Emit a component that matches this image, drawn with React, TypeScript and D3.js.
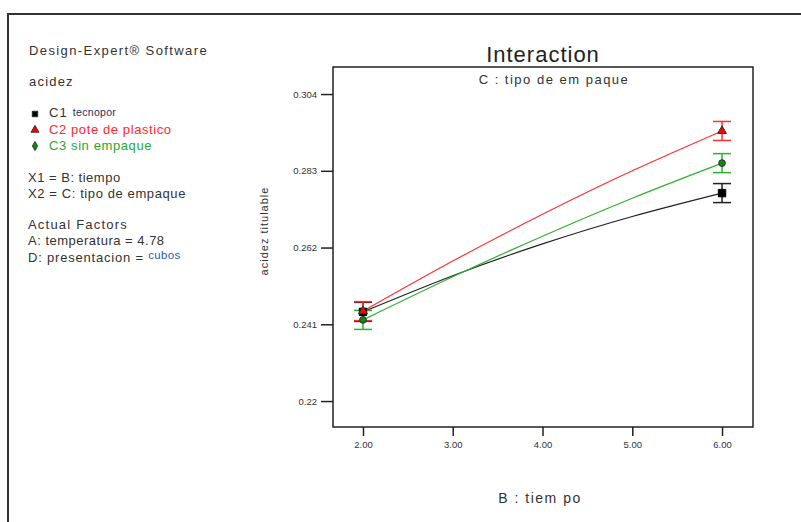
import React, { useEffect, useRef } from "react";
import * as d3 from "d3";

// B: tiempo levels
const tiempo = [2, 3, 4, 5, 6];
// acidez titulable per tipo de empaque
const c1Tecnopor = [0.2444, 0.2543, 0.263, 0.2705, 0.2769];
const c2Plastico = [0.2446, 0.2583, 0.2711, 0.283, 0.2939];
const c3SinEmpaque = [0.2422, 0.254, 0.2651, 0.2755, 0.2851];
// half-width of the LSD bars at the design points
const errHalf = [0.0026, 0.0026];
const yTicks = [0.22, 0.241, 0.262, 0.283, 0.304];
const yTickLabels = ["0.22", "0.241", "0.262", "0.283", "0.304"];
const xTicks = [2, 3, 4, 5, 6];
const xTickLabels = ["2.00", "3.00", "4.00", "5.00", "6.00"];

const FONT = "'Liberation Sans', Arial, sans-serif";

const App = () => {
  const svgRef = useRef<SVGSVGElement>(null);
  const width = 801;
  const height = 522;
  const box = { left: 333, right: 753, top: 67, bottom: 427 };

  useEffect(() => {
    const svg = d3.select(svgRef.current);
    svg.selectAll("*").remove();

    const x = d3.scaleLinear().domain([1.666, 6.345]).range([box.left, box.right]);
    const y = d3.scaleLinear().domain([0.2129, 0.3114]).range([box.bottom, box.top]);

    // outer frame
    svg.append("rect")
      .attr("x", 8).attr("y", 14)
      .attr("width", width).attr("height", height)
      .attr("fill", "none").attr("stroke", "#333").attr("stroke-width", 2);

    // plot box
    svg.append("rect")
      .attr("x", box.left).attr("y", box.top)
      .attr("width", box.right - box.left).attr("height", box.bottom - box.top)
      .attr("fill", "none").attr("stroke", "#222").attr("stroke-width", 1.5);

    // Y axis
    const yAxis = d3.axisLeft(y)
      .tickValues(yTicks)
      .tickSize(12)
      .tickPadding(4)
      .tickFormat((d, i) => yTickLabels[i]);
    const gy = svg.append("g").attr("transform", `translate(${box.left},0)`).call(yAxis);
    gy.select(".domain").remove();
    gy.selectAll("line").attr("stroke", "#222").attr("stroke-width", 1.5);
    gy.selectAll("text")
      .style("font-family", FONT).style("font-size", "9.5px").attr("fill", "#333");

    // X axis
    const xAxis = d3.axisBottom(x)
      .tickValues(xTicks)
      .tickSize(9)
      .tickPadding(5)
      .tickFormat((d, i) => xTickLabels[i]);
    const gx = svg.append("g").attr("transform", `translate(0,${box.bottom})`).call(xAxis);
    gx.select(".domain").remove();
    gx.selectAll("line").attr("stroke", "#222").attr("stroke-width", 1.5);
    gx.selectAll("text")
      .style("font-family", FONT).style("font-size", "9.5px").attr("fill", "#333");

    const series = [
      { name: "C1", values: c1Tecnopor, color: "#222222", sym: d3.symbolSquare, fill: "#000", size: 55 },
      { name: "C2", values: c2Plastico, color: "#ff3030", sym: d3.symbolTriangle, fill: "#ff0000", size: 34 },
      { name: "C3", values: c3SinEmpaque, color: "#30b030", sym: d3.symbolCircle, fill: "#118811", size: 36 },
    ];

    const line = d3.line<number>()
      .x((d, i) => x(tiempo[i]))
      .y((d) => y(d))
      .curve(d3.curveNatural);

    series.forEach((s) => {
      svg.append("path")
        .datum(s.values)
        .attr("d", line)
        .attr("fill", "none")
        .attr("stroke", s.color)
        .attr("stroke-width", 1.2);
    });

    // error bars and markers at the ends
    const ends = [0, tiempo.length - 1];
    series.forEach((s) => {
      ends.forEach((idx, k) => {
        const cx = x(tiempo[idx]);
        const lo = y(s.values[idx] - errHalf[k]);
        const hi = y(s.values[idx] + errHalf[k]);
        const g = svg.append("g").attr("stroke", s.color).attr("stroke-width", 1.5);
        g.append("line").attr("x1", cx).attr("x2", cx).attr("y1", lo).attr("y2", hi);
        g.append("line").attr("x1", cx - 9).attr("x2", cx + 9).attr("y1", lo).attr("y2", lo);
        g.append("line").attr("x1", cx - 9).attr("x2", cx + 9).attr("y1", hi).attr("y2", hi);
      });
    });
    series.forEach((s) => {
      ends.forEach((idx) => {
        svg.append("path")
          .attr("d", d3.symbol().type(s.sym).size(s.size)())
          .attr("transform", `translate(${x(tiempo[idx])},${y(s.values[idx])})`)
          .attr("fill", s.fill)
          .attr("stroke", s.name === "C1" ? "#000" : "#333")
          .attr("stroke-width", 1);
      });
    });

    // titles
    svg.append("text")
      .attr("x", (box.left + box.right) / 2).attr("y", 62)
      .attr("text-anchor", "middle")
      .style("font-family", FONT).style("font-size", "22px").style("letter-spacing", "1px").attr("fill", "#222")
      .text("Interaction");
    svg.append("text")
      .attr("x", 554).attr("y", 84)
      .attr("text-anchor", "middle")
      .style("font-family", FONT).style("font-size", "13px").style("letter-spacing", "1.5px").attr("fill", "#333")
      .text("C : tipo de em paque");
    svg.append("text")
      .attr("x", 540).attr("y", 503)
      .attr("text-anchor", "middle")
      .style("font-family", FONT).style("font-size", "14px").style("letter-spacing", "1.5px").attr("fill", "#333")
      .text("B : tiem po");
    svg.append("text")
      .attr("transform", `translate(268,231) rotate(-90)`)
      .attr("text-anchor", "middle")
      .style("font-family", FONT).style("font-size", "11px").style("letter-spacing", "1px").attr("fill", "#333")
      .text("acidez titulable");

    // left info panel
    const info = svg.append("g")
      .style("font-family", FONT).style("font-size", "13px").style("letter-spacing", "1.2px").attr("fill", "#333");
    info.append("text").attr("x", 29).attr("y", 55).style("letter-spacing", "1.4px").text("Design-Expert® Software");
    info.append("text").attr("x", 29).attr("y", 86).text("acidez");

    const t1 = info.append("text").attr("x", 49).attr("y", 117).text("C1 ");
    t1.append("tspan").style("font-size", "10.5px").style("letter-spacing", "0.3px").attr("dy", -1).attr("fill", "#1e2e5c").text("tecnopor");
    info.append("text").attr("x", 49).attr("y", 134).attr("fill", "#ff2a2a").style("letter-spacing", "0.6px").text("C2 pote de plastico");
    info.append("text").attr("x", 49).attr("y", 150).attr("fill", "#2aa82a").style("letter-spacing", "0.6px").text("C3 sin empaque");
    const legendSizes = [30, 28, 24];
    series.forEach((s, i) => {
      info.append("path")
        .attr("d", d3.symbol().type(i === 2 ? d3.symbolDiamond : s.sym).size(legendSizes[i])())
        .attr("transform", `translate(35,${114 + i * 16})`)
        .attr("fill", s.fill).attr("stroke", "#222").attr("stroke-width", 0.8);
    });

    info.append("text").attr("x", 28).attr("y", 182).style("letter-spacing", "0.5px").text("X1 = B: tiempo");
    info.append("text").attr("x", 28).attr("y", 198).style("letter-spacing", "0.6px").text("X2 = C: tipo de empaque");
    info.append("text").attr("x", 28).attr("y", 229).text("Actual Factors");
    info.append("text").attr("x", 28).attr("y", 245).style("letter-spacing", "0.5px").text("A: temperatura = 4.78");
    const t2 = info.append("text").attr("x", 28).attr("y", 262).style("letter-spacing", "0.8px").text("D: presentacion = ");
    t2.append("tspan").style("font-size", "11.5px").style("letter-spacing", "0.3px").attr("dy", -3).attr("fill", "#2a5aa8").text("cubos");
  }, []);

  return (
    <svg
      ref={svgRef}
      width={width}
      height={height}
      style={{ position: "absolute", left: 0, top: 0, background: "#fff" }}
    ></svg>
  );
};

export default App;
